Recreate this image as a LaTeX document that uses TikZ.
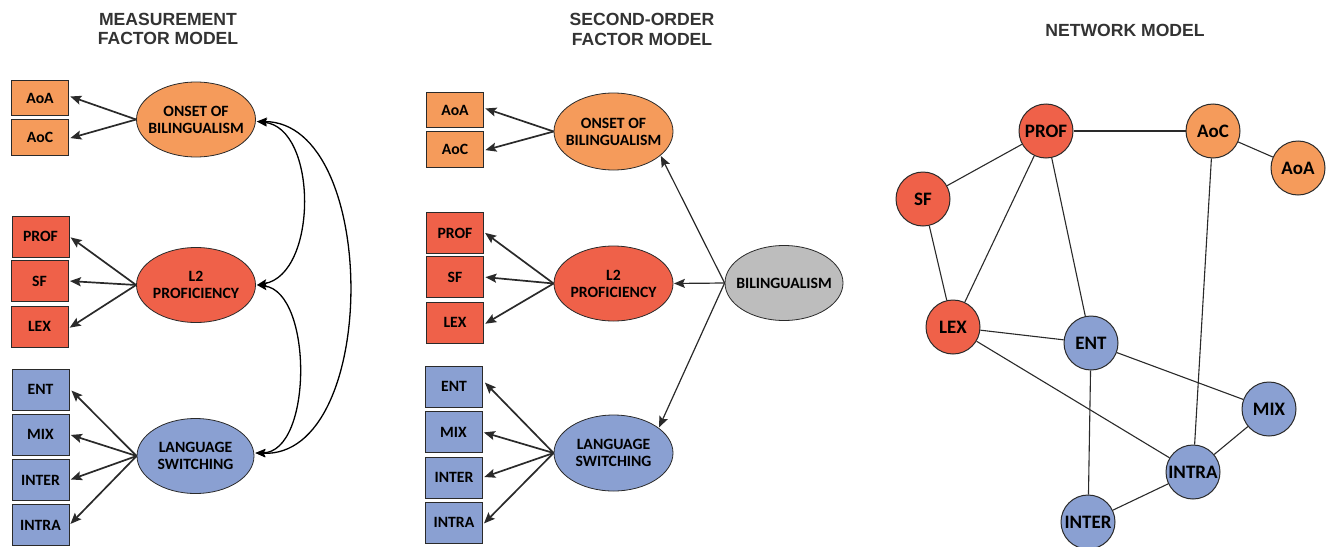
\documentclass[tikz,border=0pt]{standalone}
\usepackage{fontspec}
\setmainfont{Carlito}
\newfontfamily\titlefont{Liberation Sans}
\usetikzlibrary{shapes.geometric,arrows.meta}
\definecolor{orng}{HTML}{F59B5B}
\definecolor{redd}{HTML}{EF6149}
\definecolor{blu}{HTML}{8AA0D2}
\definecolor{gry}{HTML}{BDBDBD}
\definecolor{ttl}{HTML}{333333}
\definecolor{edg}{HTML}{2A2A2A}
\tikzset{
  lbl/.style={font=\fontsize{15.7}{17}\selectfont\bfseries, text=black},
  ttlnode/.style={font=\titlefont\fontsize{17.6}{19.5}\selectfont\bfseries, text=ttl, align=center},
  boxnode/.style={lbl, draw=edg, line width=0.8pt, rectangle, minimum width=57pt, minimum height=41pt, inner sep=0pt},
  sbox/.style={boxnode, minimum height=35.5pt},
  ellnode/.style={draw=edg, line width=0.8pt, ellipse, minimum width=119pt, minimum height=75pt, inner sep=0pt,
     label={[lbl, align=center, inner sep=0pt]center:#1}},
  circnode/.style={lbl, font=\fontsize{19}{21}\selectfont\bfseries, draw=edg, line width=1pt, circle, minimum size=54pt, inner sep=0pt},
  arr/.style={draw=edg, line width=1.7pt, -{Stealth[length=11pt,width=9pt,inset=2pt]}, shorten >=1.5pt},
  darr/.style={draw=black, line width=1.3pt, {Stealth[length=10pt,width=8pt,inset=2pt]}-{Stealth[length=10pt,width=8pt,inset=2pt]}},
  netedge/.style={draw=edg, line width=1.1pt},
}
\begin{document}
\begin{tikzpicture}[x=1pt,y=-1pt]
\useasboundingbox (0,0) rectangle (1329,546);
% ---------- Measurement factor model ----------
\node[ttlnode] (t1) at (168,29) {MEASUREMENT\\FACTOR MODEL};
\node[sbox, fill=orng] (m-aoa) at (40,98) {AoA};
\node[sbox, fill=orng] (m-aoc) at (40,137.5) {AoC};
\node[boxnode, fill=redd] (m-prof) at (40.5,236.5) {PROF};
\node[boxnode, fill=redd] (m-sf) at (39.5,281) {SF};
\node[boxnode, fill=redd] (m-lex) at (39.5,326.5) {LEX};
\node[boxnode, fill=blu] (m-ent) at (40.5,389.5) {ENT};
\node[boxnode, fill=blu] (m-mix) at (40.5,434.5) {MIX};
\node[boxnode, fill=blu] (m-inter) at (40.5,480) {INTER};
\node[boxnode, fill=blu] (m-intra) at (40.5,525) {INTRA};
\node[ellnode={ONSET OF\\BILINGUALISM}, fill=orng] (m-ons) at (196,119.5) {};
\node[ellnode={L2\\PROFICIENCY}, fill=redd] (m-l2) at (196,285) {};
\node[ellnode={LANGUAGE\\SWITCHING}, fill=blu, minimum width=117pt] (m-ls) at (195.5,456) {};
\draw[arr] (m-ons.west) -- ([yshift=2pt]m-aoa.east);
\draw[arr] (m-ons.west) -- ([yshift=-1pt]m-aoc.east);
\draw[arr] (m-l2.west) -- (m-prof.east);
\draw[arr] (m-l2.west) -- (m-sf.east);
\draw[arr] (m-l2.west) -- ([yshift=-2pt]m-lex.east);
\draw[arr] (m-ls.west) -- ([xshift=1pt]m-ent.east);
\draw[arr] (m-ls.west) -- (m-mix.east);
\draw[arr] (m-ls.west) -- (m-inter.east);
\draw[arr] (m-ls.west) -- (m-intra.east);
\draw[darr] ([xshift=1pt,yshift=-2pt]m-ons.east) .. controls (318,128) and (318,274) .. ([xshift=1pt]m-l2.east);
\draw[darr] ([xshift=1pt]m-l2.east) .. controls (313,292) and (313,452) .. ([xshift=1pt,yshift=3pt]m-ls.east);
\draw[darr] ([xshift=1pt,yshift=-2pt]m-ons.east) .. controls (380,122) and (380,458) .. ([xshift=1pt,yshift=3pt]m-ls.east);
% ---------- Second-order factor model ----------
\node[ttlnode] (t2) at (642,29.5) {SECOND-ORDER\\FACTOR MODEL};
\node[sbox, fill=orng] (s-aoa) at (455,110) {AoA};
\node[sbox, fill=orng] (s-aoc) at (455,149.5) {AoC};
\node[boxnode, fill=redd] (s-prof) at (455,233) {PROF};
\node[boxnode, fill=redd] (s-sf) at (455,277) {SF};
\node[boxnode, fill=redd] (s-lex) at (455,322.5) {LEX};
\node[boxnode, fill=blu] (s-ent) at (454,386.5) {ENT};
\node[boxnode, fill=blu] (s-mix) at (453.5,432) {MIX};
\node[boxnode, fill=blu] (s-inter) at (454,477.5) {INTER};
\node[boxnode, fill=blu] (s-intra) at (454,522.5) {INTRA};
\node[ellnode={ONSET OF\\BILINGUALISM}, fill=orng, minimum height=77pt] (s-ons) at (613.5,131.5) {};
\node[ellnode={L2\\PROFICIENCY}, fill=redd] (s-l2) at (613.5,283.5) {};
\node[ellnode={LANGUAGE\\SWITCHING}, fill=blu, minimum height=76pt] (s-ls) at (613.5,453) {};
\node[ellnode={BILINGUALISM}, fill=gry, minimum width=118pt] (s-bil) at (784,283) {};
\draw[arr] (s-ons.west) -- ([yshift=2pt]s-aoa.east);
\draw[arr] (s-ons.west) -- ([yshift=-1pt]s-aoc.east);
\draw[arr] (s-l2.west) -- ([yshift=1pt]s-prof.east);
\draw[arr] (s-l2.west) -- (s-sf.east);
\draw[arr] (s-l2.west) -- ([yshift=-2pt]s-lex.east);
\draw[arr] (s-ls.west) -- ([xshift=1pt,yshift=5pt]s-ent.east);
\draw[arr] (s-ls.west) -- (s-mix.east);
\draw[arr] (s-ls.west) -- (s-inter.east);
\draw[arr] (s-ls.west) -- ([yshift=-2pt]s-intra.east);
\draw[arr, line width=1.2pt, shorten >=0.5pt] (s-bil.west) -- (s-ons.-27);
\draw[arr, line width=1.2pt, shorten >=0.5pt] (s-bil.west) -- (s-l2.east);
\draw[arr, line width=1.2pt, shorten >=0.5pt] (s-bil.west) -- (s-ls.29);
% ---------- Network model ----------
\node[ttlnode] (t3) at (1125,30) {NETWORK MODEL};
\node[circnode, fill=redd] (n-prof) at (1046,131) {PROF};
\node[circnode, fill=orng] (n-aoc) at (1213,131) {AoC};
\node[circnode, fill=orng] (n-aoa) at (1298,168) {AoA};
\node[circnode, fill=redd] (n-sf) at (923,199) {SF};
\node[circnode, fill=redd] (n-lex) at (953,327) {LEX};
\node[circnode, fill=blu] (n-ent) at (1091,343) {ENT};
\node[circnode, fill=blu] (n-mix) at (1269,409) {MIX};
\node[circnode, fill=blu] (n-intra) at (1193,472) {INTRA};
\node[circnode, fill=blu] (n-inter) at (1088,522) {INTER};
\draw[netedge] (n-prof) -- (n-aoc);
\draw[netedge] (n-aoc) -- (n-aoa);
\draw[netedge] (n-prof) -- (n-sf);
\draw[netedge] (n-prof) -- (n-lex);
\draw[netedge] (n-prof) -- (n-ent);
\draw[netedge] (n-sf) -- (n-lex);
\draw[netedge] (n-aoc) -- (n-intra);
\draw[netedge] (n-lex) -- (n-ent);
\draw[netedge] (n-lex) -- (n-intra);
\draw[netedge] (n-ent) -- (n-mix);
\draw[netedge] (n-ent) -- (n-inter);
\draw[netedge] (n-mix) -- (n-intra);
\draw[netedge] (n-intra) -- (n-inter);
\end{tikzpicture}
\end{document}
